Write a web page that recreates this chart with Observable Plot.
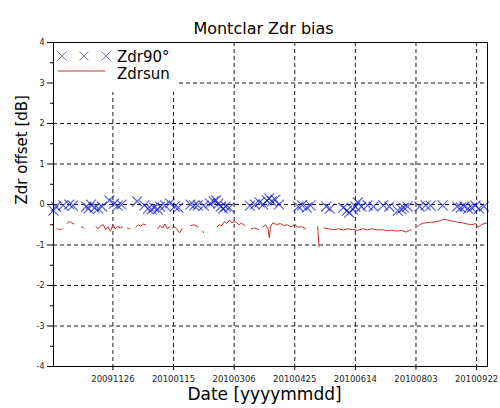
<!DOCTYPE html>
<html><head><meta charset="utf-8">
<script src="https://cdn.jsdelivr.net/npm/d3@7"></script>
<script src="https://cdn.jsdelivr.net/npm/@observablehq/plot@0.6"></script>
<style>
html,body{margin:0;padding:0;background:#fff;}
#wrap{position:relative;width:500px;height:408px;font-family:"DejaVu Sans",sans-serif;}
#legend{position:absolute;left:54px;top:43px;width:124px;height:49px;background:#fff;}
</style></head><body><div id="wrap"></div>
<script>
const titleText = "Montclar Zdr bias";
const xLabel = "Date [yyyymmdd]";
const yLabel = "Zdr offset [dB]";
const seriesNames = ["Zdr90°", "Zdrsun"];
const xDomain = ["2009-10-08", "2010-10-01"];
const xTicks = ["2009-11-26", "2010-01-15", "2010-03-06", "2010-04-25", "2010-06-14", "2010-08-03", "2010-09-22"];
const yTicks = [-4, -3, -2, -1, 0, 1, 2, 3, 4];
const yMinorTicks = [-3.5, -2.5, -1.5, -0.5, 0.5, 1.5, 2.5, 3.5];

// Zdr90° (blue crosses)
const z90Dates = ["2009-10-08","2009-10-10","2009-10-16","2009-10-21","2009-10-24","2009-11-04","2009-11-06","2009-11-08","2009-11-11","2009-11-14","2009-11-17","2009-11-23","2009-11-27","2009-11-30","2009-12-03","2009-12-16","2009-12-22","2009-12-25","2009-12-28","2009-12-30","2010-01-02","2010-01-04","2010-01-08","2010-01-12","2010-01-16","2010-01-19","2010-01-29","2010-02-01","2010-02-04","2010-02-09","2010-02-14","2010-02-17","2010-02-19","2010-02-21","2010-02-23","2010-02-25","2010-02-27","2010-03-02","2010-03-19","2010-03-23","2010-03-27","2010-03-30","2010-04-02","2010-04-04","2010-04-06","2010-04-09","2010-04-12","2010-04-28","2010-05-01","2010-05-05","2010-05-08","2010-05-21","2010-05-24","2010-06-04","2010-06-07","2010-06-09","2010-06-12","2010-06-14","2010-06-16","2010-06-19","2010-06-24","2010-06-29","2010-07-07","2010-07-12","2010-07-19","2010-07-22","2010-07-24","2010-07-27","2010-08-06","2010-08-11","2010-08-15","2010-08-25","2010-09-06","2010-09-09","2010-09-12","2010-09-15","2010-09-18","2010-09-21","2010-09-24","2010-09-28"];
const z90Values = [-0.15,-0.05,-0.02,0.0,-0.03,-0.05,-0.1,0.0,-0.08,-0.1,-0.05,0.1,0.02,-0.03,0.0,0.08,-0.02,-0.1,-0.12,-0.08,-0.12,-0.05,-0.02,0.03,-0.05,-0.08,0.0,-0.03,-0.02,-0.03,0.03,0.08,0.1,0.02,-0.05,-0.1,-0.05,-0.08,-0.03,0.0,0.05,0.0,0.1,0.15,0.08,0.12,0.0,-0.05,-0.02,-0.08,-0.02,-0.05,-0.1,-0.08,-0.15,-0.2,-0.12,-0.05,0.05,-0.05,-0.02,-0.05,-0.02,-0.05,-0.15,-0.12,-0.08,-0.05,-0.05,-0.02,-0.03,-0.02,-0.05,-0.08,-0.05,-0.1,-0.08,-0.03,-0.1,-0.05];

// Zdrsun (red line, null = gap)
const sunDates = ["2009-10-11","2009-10-13","2009-10-15","2009-10-17","2009-10-19","2009-10-21","2009-10-23","2009-10-25","2009-10-27","2009-10-31","2009-11-02","2009-11-06","2009-11-12","2009-11-14","2009-11-16","2009-11-18","2009-11-20","2009-11-22","2009-11-24","2009-11-26","2009-11-28","2009-11-30","2009-12-02","2009-12-04","2009-12-06","2009-12-08","2009-12-10","2009-12-12","2009-12-15","2009-12-17","2009-12-19","2009-12-21","2009-12-23","2009-12-27","2010-01-02","2010-01-04","2010-01-06","2010-01-08","2010-01-10","2010-01-12","2010-01-13","2010-01-14","2010-01-16","2010-01-18","2010-01-20","2010-01-22","2010-01-25","2010-01-29","2010-02-01","2010-02-04","2010-02-06","2010-02-08","2010-02-09","2010-02-12","2010-02-20","2010-02-22","2010-02-24","2010-02-26","2010-02-28","2010-03-02","2010-03-04","2010-03-07","2010-03-10","2010-03-12","2010-03-15","2010-03-17","2010-03-20","2010-03-23","2010-03-26","2010-03-28","2010-03-30","2010-04-01","2010-04-03","2010-04-04","2010-04-05","2010-04-07","2010-04-10","2010-04-13","2010-04-16","2010-04-19","2010-04-22","2010-04-25","2010-04-28","2010-05-01","2010-05-04","2010-05-08","2010-05-14","2010-05-15","2010-05-17","2010-05-19","2010-05-23","2010-05-27","2010-05-31","2010-06-04","2010-06-08","2010-06-12","2010-06-16","2010-06-20","2010-06-24","2010-06-28","2010-07-02","2010-07-06","2010-07-10","2010-07-14","2010-07-18","2010-07-22","2010-07-26","2010-07-30","2010-08-01","2010-08-04","2010-08-06","2010-08-09","2010-08-12","2010-08-15","2010-08-19","2010-08-23","2010-08-26","2010-08-29","2010-09-01","2010-09-04","2010-09-07","2010-09-10","2010-09-14","2010-09-18","2010-09-21","2010-09-23","2010-09-26","2010-09-29","2010-10-01"];
const sunValues = [-0.6,-0.62,-0.6,null,-0.47,-0.42,-0.45,-0.48,null,-0.55,-0.58,null,-0.55,-0.6,-0.52,-0.5,-0.62,-0.55,-0.66,-0.5,-0.6,-0.54,-0.58,-0.55,null,-0.58,-0.6,null,-0.56,-0.5,-0.54,-0.48,-0.5,null,-0.6,-0.52,-0.58,-0.48,-0.6,-0.55,null,-0.58,-0.55,-0.62,-0.7,-0.6,null,-0.52,-0.5,-0.55,null,-0.66,-0.7,null,-0.55,-0.5,-0.52,-0.42,-0.47,-0.38,-0.45,-0.42,-0.5,-0.46,-0.52,null,-0.6,-0.58,-0.62,null,-0.55,-0.5,-0.6,-0.82,-0.55,-0.45,-0.5,-0.47,-0.52,-0.5,-0.55,-0.5,-0.56,-0.55,-0.6,null,-0.55,-1.05,null,-0.58,-0.6,-0.62,-0.6,-0.63,-0.6,-0.62,-0.64,-0.6,-0.62,-0.6,-0.63,-0.62,-0.65,-0.63,-0.66,-0.64,-0.68,-0.62,null,-0.55,-0.5,-0.46,-0.45,-0.44,-0.43,-0.4,-0.36,-0.38,-0.4,-0.42,-0.44,-0.45,-0.48,-0.5,-0.47,-0.56,-0.5,-0.46,-0.47];

const blue = "#0a14c8";
const red = "#c83232";

const z90 = z90Dates.map((d, i) => ({date: new Date(d), v: z90Values[i]}));
const sun = sunDates.map((d, i) => ({date: new Date(d), v: sunValues[i]}));

const chart = Plot.plot({
  width: 500, height: 408,
  marginLeft: 53, marginRight: 13, marginTop: 42, marginBottom: 42,
  style: {fontFamily: "DejaVu Sans", background: "white", color: "black"},
  x: {type: "utc", domain: xDomain.map(d => new Date(d))},
  y: {domain: [-4, 4]},
  marks: [
    Plot.gridX(xTicks.map(d => new Date(d)), {stroke: "black", strokeOpacity: 1, strokeDasharray: "4,3", strokeWidth: 0.9}),
    Plot.gridY(yTicks, {stroke: "black", strokeOpacity: 1, strokeDasharray: "4,3", strokeWidth: 0.9}),
    Plot.line(sun, {x: "date", y: "v", stroke: red, strokeWidth: 1}),
    Plot.dot(z90, {x: "date", y: "v", symbol: "times", r: 4.6, stroke: blue, strokeOpacity: 0.7, strokeWidth: 1.1}),
    Plot.frame({stroke: "black", strokeWidth: 1}),
    Plot.axisX(xTicks.map(d => new Date(d)), {tickFormat: d3.utcFormat("%Y%m%d"), tickSize: 4, tickPadding: 5, fontSize: 8.5, label: null, fill: "#222"}),
    Plot.axisY(yTicks, {tickFormat: d => String(d), tickSize: 6, tickPadding: 3, fontSize: 8, label: null, fill: "#222"}),
    Plot.axisY(yMinorTicks, {tickFormat: () => "", tickSize: 3, label: null}),
    Plot.text([titleText], {text: d => d, frameAnchor: "top", dy: -20, dx: -7, fontSize: 16, fill: "black"}),
    Plot.text([xLabel], {text: d => d, frameAnchor: "bottom", dy: 33, dx: -6, fontSize: 17, fill: "black"}),
    Plot.text([yLabel], {text: d => d, frameAnchor: "left", dx: -31, rotate: -90, fontSize: 15, fill: "black"})
  ]
});
const wrap = d3.select("#wrap");
wrap.node().appendChild(chart);

// Legend
const leg = wrap.append("div").attr("id", "legend");
const ls = leg.append("svg").attr("width", 124).attr("height", 49).style("font-family", "DejaVu Sans");
const markerXs = [8, 30, 52];
const hw = 4.5;
markerXs.forEach(x => {
  ls.append("path").attr("d", `M${x-hw},${13-hw}L${x+hw},${13+hw}M${x-hw},${13+hw}L${x+hw},${13-hw}`)
    .attr("stroke", blue).attr("stroke-opacity", 0.6).attr("fill", "none");
});
ls.append("text").attr("x", 63).attr("y", 18.5).attr("font-size", 15).text(seriesNames[0]);
ls.append("line").attr("x1", 4).attr("x2", 51).attr("y1", 28).attr("y2", 28).attr("stroke", red).attr("stroke-width", 1);
ls.append("text").attr("x", 63).attr("y", 35.5).attr("font-size", 15).text(seriesNames[1]);
</script></body></html>
